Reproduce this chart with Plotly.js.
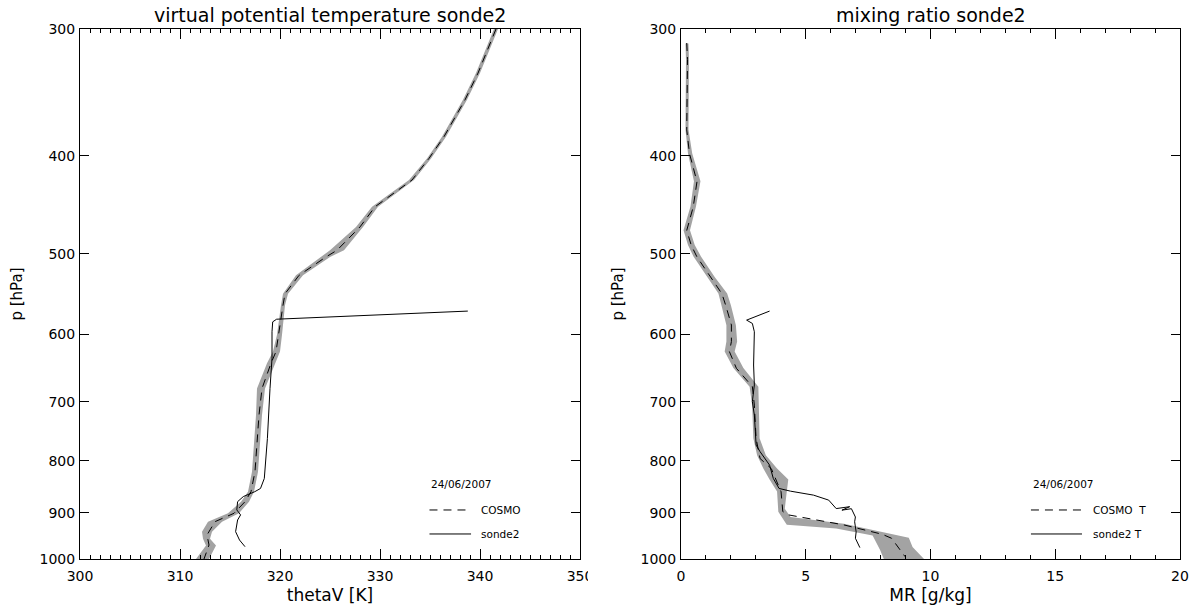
<!DOCTYPE html>
<html>
<head>
<meta charset="utf-8">
<script src="https://cdn.plot.ly/plotly-3.0.1.min.js"></script>
<style>html,body{margin:0;padding:0;background:#fff;}#chart{width:1198px;height:610px;}</style>
</head>
<body>
<div id="chart"></div>
<script>
// ---------- tick values ----------
const pTicks = [300, 400, 500, 600, 700, 800, 900, 1000];
const pTickText = ["300", "400", "500", "600", "700", "800", "900", "1000"];

// ---------- left panel: virtual potential temperature ----------
const cosmoThetaP = [300, 331.6, 352.4, 383.1, 402.5, 422.8, 449.3, 470.3, 495.9, 503.5, 525, 547.4, 561.8, 601, 624.3, 641.1, 678.8, 721.2, 820, 858.2, 877.9, 901.4, 918.7, 946.9, 968.7, 1000];
const cosmoTheta  = [341.6, 339.8, 338.5, 336.4, 334.9, 333.2, 329.5, 328.0, 325.7, 324.6, 321.9, 320.5, 320.3, 319.9, 319.6, 319.1, 318.2, 317.9, 317.5, 317.1, 316.5, 315.4, 313.5, 312.7, 312.9, 312.4];

const bandThetaP  = [300, 331.6, 352.4, 383.1, 402.5, 422.8, 449.3, 470.3, 495.9, 503.5, 525, 547.4, 561.8, 601, 624.3, 641.1, 678.8, 721.2, 820, 858.2, 877.9, 901.4, 919, 940, 955, 970, 1000];
const bandThetaLo = [341.4, 339.6, 338.3, 336.2, 334.7, 332.9, 329.2, 327.6, 325.0, 324.1, 321.6, 320.3, 320.1, 319.7, 319.3, 318.7, 317.7, 317.6, 317.2, 316.8, 316.1, 314.8, 312.8, 312.2, 312.3, 312.6, 311.6];
const bandThetaHi = [341.8, 340.0, 338.7, 336.6, 335.1, 333.4, 329.8, 328.3, 326.4, 325.0, 322.3, 320.8, 320.5, 320.2, 320.0, 319.5, 318.5, 318.2, 317.8, 317.4, 316.9, 315.9, 314.2, 313.2, 313.0, 313.6, 312.9];

const sondeThetaP = [972.4, 957.8, 939.8, 915.2, 904.7, 894.5, 877.9, 867.8, 858.2, 851.9, 832.8, 760.6, 678.8, 633.9, 596.8, 583.5, 580, 569.4];
const sondeTheta  = [316.5, 315.95, 315.56, 315.76, 316.06, 315.68, 315.76, 316.33, 317.48, 318.05, 318.43, 318.74, 319.0, 319.2, 319.2, 319.27, 319.66, 338.78];

// ---------- right panel: mixing ratio ----------
const cosmoMrP = [309.7, 321.7, 377.3, 398, 424.4, 449.4, 474, 490.3, 503.5, 527, 547.4, 561.8, 587.6, 610.3, 624.3, 648.4, 676, 705, 760.6, 796, 814.4, 858.2, 897.9, 904.7, 925.5, 945.3, 954, 994.6];
const cosmoMr  = [0.23, 0.26, 0.23, 0.34, 0.64, 0.49, 0.23, 0.41, 0.64, 1.18, 1.64, 1.79, 2.02, 2.02, 1.94, 2.22, 2.86, 2.94, 3.01, 3.17, 3.62, 4.01, 4.08, 4.31, 6.53, 8.06, 8.44, 8.98];

const bandMrLoP = [310, 322, 377, 398, 424, 449, 474, 490, 503, 527, 547, 562, 588, 610, 624, 648, 676, 705, 760, 790, 814, 835, 858, 898, 925, 933, 948, 980, 1000];
const bandMrLo  = [0.18, 0.2, 0.18, 0.28, 0.52, 0.38, 0.1, 0.28, 0.5, 1.05, 1.5, 1.62, 1.82, 1.82, 1.75, 2.1, 2.75, 2.85, 2.9, 3.05, 3.3, 3.55, 3.85, 3.9, 4.24, 6.22, 7.68, 7.98, 8.13];
const bandMrHiP = [310, 322, 377, 398, 424, 449, 474, 490, 503, 527, 547, 562, 588, 610, 624, 648, 676, 705, 760, 790, 814, 835, 858, 892, 909, 923, 953, 973, 1000];
const bandMrHi  = [0.3, 0.32, 0.3, 0.45, 0.78, 0.6, 0.36, 0.55, 0.8, 1.35, 1.85, 2.0, 2.2, 2.25, 2.15, 2.5, 3.1, 3.1, 3.15, 3.4, 3.85, 4.3, 4.24, 4.16, 4.39, 6.53, 9.13, 9.28, 9.74];

const sondeMrP = [569.4, 581.2, 585.6, 596.8, 643.6, 673.4, 699.4, 721.2, 748.6, 772, 783.7, 807.9, 832.8, 851.9, 857.2, 864.9, 874.8, 891.8, 888, 895, 892, 909, 918.9, 940.4, 954, 970, 974.5];
const sondeMr  = [3.55, 2.63, 2.86, 2.94, 2.91, 2.94, 2.86, 2.94, 2.98, 3.01, 3.17, 3.55, 3.7, 3.93, 4.39, 5.31, 5.92, 6.22, 6.76, 6.45, 6.83, 6.99, 6.96, 7.02, 6.99, 7.14, 7.17];

const titles = ["virtual potential temperature sonde2", "mixing ratio sonde2"];
const xTitles = ["thetaV [K]", "MR [g/kg]"];
const legendDate = "24/06/2007";
const legendNames = [["COSMO", "sonde2"], ["COSMO  T", "sonde2 T"]];

// ---------- build traces ----------
const FONT = "DejaVu Sans, Arial, sans-serif";
const BAND = "#a3a3a3";

function bandTrace(loX, loP, hiX, hiP, xa, ya) {
  return {
    x: loX.concat(hiX.slice().reverse()),
    y: loP.concat(hiP.slice().reverse()),
    xaxis: xa, yaxis: ya, type: "scatter", mode: "lines",
    fill: "toself", fillcolor: BAND, line: {width: 0, color: BAND},
    hoverinfo: "skip", showlegend: false
  };
}
function lineTrace(x, y, xa, ya, dash) {
  return {x: x, y: y, xaxis: xa, yaxis: ya, type: "scatter", mode: "lines",
    line: {color: "#000", width: 1, dash: dash}, showlegend: false};
}

const traces = [
  bandTrace(bandThetaLo, bandThetaP, bandThetaHi, bandThetaP, "x", "y"),
  lineTrace(cosmoTheta, cosmoThetaP, "x", "y", "8px,6px"),
  lineTrace(sondeTheta, sondeThetaP, "x", "y", "solid"),
  bandTrace(bandMrLo, bandMrLoP, bandMrHi, bandMrHiP, "x2", "y2"),
  lineTrace(cosmoMr, cosmoMrP, "x2", "y2", "8px,6px"),
  lineTrace(sondeMr, sondeMrP, "x2", "y2", "solid")
];

const tickFont = {family: FONT, size: 14, color: "#000"};
function xAxis(domain, range, dtick, anchor, title) {
  return {
    domain: domain, range: range, anchor: anchor, tick0: range[0], dtick: dtick,
    ticks: "inside", ticklen: 10, tickcolor: "#000", tickwidth: 1,
    minor: {dtick: 1, ticks: "inside", ticklen: 4, tickcolor: "#000", tickwidth: 1, showgrid: false},
    showline: true, linecolor: "#000", linewidth: 1, mirror: "allticks",
    showgrid: false, zeroline: false, tickfont: tickFont, ticklabelstandoff: 4,
    title: {text: title, font: {family: FONT, size: 17, color: "#000"}, standoff: 6}
  };
}
function yAxis(anchor) {
  return {
    type: "log", range: [Math.log10(1000), Math.log10(300)], anchor: anchor,
    tickmode: "array", tickvals: pTicks, ticktext: pTickText,
    ticks: "inside", ticklen: 9, tickcolor: "#000", tickwidth: 1,
    showline: true, linecolor: "#000", linewidth: 1, mirror: "allticks",
    showgrid: false, zeroline: false, tickfont: tickFont, ticklabelstandoff: 1,
    title: {text: "p [hPa]", font: {family: FONT, size: 15, color: "#000"}, standoff: 13}
  };
}

const d1 = [0, 500 / 1100], d2 = [601 / 1100, 1];
const annFont = {family: FONT, size: 10.5, color: "#000"};
const titleFont = {family: FONT, size: 19, color: "#000"};
const annotations = [
  {text: titles[0], xref: "paper", yref: "paper", x: (d1[0] + d1[1]) / 2, y: 1, yshift: 14, xanchor: "center", yanchor: "middle", showarrow: false, font: titleFont},
  {text: titles[1], xref: "paper", yref: "paper", x: (d2[0] + d2[1]) / 2, y: 1, yshift: 14, xanchor: "center", yanchor: "middle", showarrow: false, font: titleFont},
  {text: legendDate, xref: "paper", yref: "paper", x: 0.3173, y: 0.1415, xanchor: "left", yanchor: "middle", showarrow: false, font: annFont},
  {text: legendNames[0][0], xref: "paper", yref: "paper", x: 0.3627, y: 0.0925, xanchor: "left", yanchor: "middle", showarrow: false, font: annFont},
  {text: legendNames[0][1], xref: "paper", yref: "paper", x: 0.3627, y: 0.0472, xanchor: "left", yanchor: "middle", showarrow: false, font: annFont},
  {text: legendDate, xref: "paper", yref: "paper", x: 0.8645, y: 0.1415, xanchor: "left", yanchor: "middle", showarrow: false, font: annFont},
  {text: legendNames[1][0], xref: "paper", yref: "paper", x: 0.919, y: 0.0925, xanchor: "left", yanchor: "middle", showarrow: false, font: annFont},
  {text: legendNames[1][1], xref: "paper", yref: "paper", x: 0.919, y: 0.0472, xanchor: "left", yanchor: "middle", showarrow: false, font: annFont}
];
const shapes = [
  {type: "line", xref: "paper", yref: "paper", x0: 0.3177, x1: 0.3518, y0: 0.0925, y1: 0.0925, line: {color: "#000", width: 1, dash: "8px,6px"}},
  {type: "line", xref: "paper", yref: "paper", x0: 0.3177, x1: 0.3555, y0: 0.0472, y1: 0.0472, line: {color: "#000", width: 1}},
  {type: "line", xref: "paper", yref: "paper", x0: 0.8645, x1: 0.9109, y0: 0.0925, y1: 0.0925, line: {color: "#000", width: 1, dash: "8px,6px"}},
  {type: "line", xref: "paper", yref: "paper", x0: 0.8645, x1: 0.9109, y0: 0.0472, y1: 0.0472, line: {color: "#000", width: 1}},
  // right edge of the left image is cropped through the last tick label
  {type: "rect", xref: "paper", yref: "paper", x0: 508 / 1100, x1: 550 / 1100, y0: -0.012, y1: -0.07, fillcolor: "#fff", line: {width: 0}, layer: "above"}
];

const layout = {
  width: 1198, height: 610,
  margin: {l: 80, r: 18, t: 29, b: 51, pad: 0},
  paper_bgcolor: "#fff", plot_bgcolor: "#fff",
  font: {family: FONT, color: "#000"},
  showlegend: false,
  xaxis: xAxis(d1, [300, 350], 10, "y", xTitles[0]),
  yaxis: yAxis("x"),
  xaxis2: xAxis(d2, [0, 20], 5, "y2", xTitles[1]),
  yaxis2: yAxis("x2"),
  annotations: annotations,
  shapes: shapes
};

Plotly.newPlot("chart", traces, layout, {staticPlot: true, displayModeBar: false});
</script>
</body>
</html>
